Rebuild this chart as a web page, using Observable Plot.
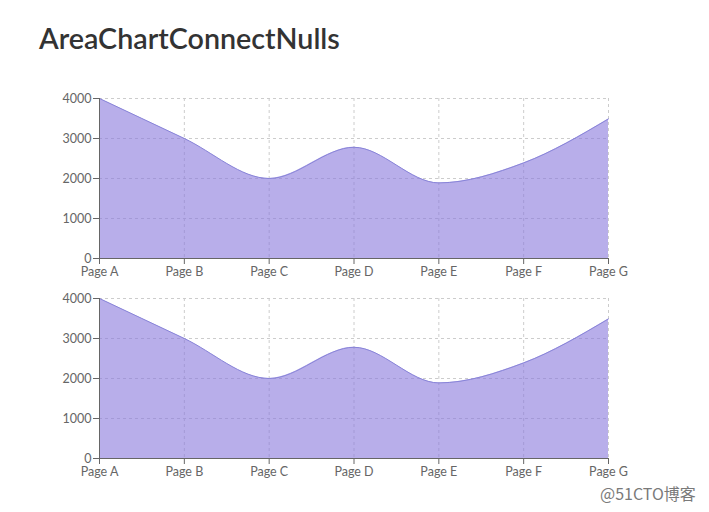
<!DOCTYPE html>
<html>
<head>
<meta charset="utf-8">
<script src="https://cdn.jsdelivr.net/npm/d3@7"></script>
<script src="https://cdn.jsdelivr.net/npm/@observablehq/plot@0.6"></script>
<style>
  html, body { margin: 0; padding: 0; background: #fff; }
  body { width: 709px; height: 512px; position: relative; overflow: hidden; font-family: Lato, "Noto Sans", sans-serif; }
  #title { position: absolute; left: 39px; top: 21px; font-size: 28.7px; font-weight: 600; color: #333; font-family: Lato, sans-serif; }
  .chart { position: absolute; left: 0; }
  #c1 { top: 88px; }
  #c2 { top: 288px; }
  #mark { position: absolute; left: 600px; top: 481px; font-size: 16px; color: #7a7a7a; font-family: "Noto Sans CJK SC", sans-serif; }
</style>
</head>
<body>
<div id="title">AreaChartConnectNulls</div>
<div id="c1" class="chart"></div>
<div id="c2" class="chart"></div>
<div id="mark">@51CTO博客</div>
<script>
const names = ["Page A", "Page B", "Page C", "Page D", "Page E", "Page F", "Page G"];
const uv = [4000, 3000, 2000, 2780, 1890, 2390, 3490];
const yTicks = [0, 1000, 2000, 3000, 4000];

const data = names.map((name, i) => ({name, uv: uv[i]}));

function makeChart() {
  return Plot.plot({
    width: 709,
    height: 192,
    marginLeft: 99,
    marginRight: 101,
    marginTop: 10,
    marginBottom: 22,
    style: {fontFamily: "Lato, 'Noto Sans', sans-serif", fontSize: "12.5px", color: "#666", background: "transparent"},
    x: {type: "point", domain: names, range: [99, 608], padding: 0, round: false, axis: null, label: null},
    y: {domain: [0, 4000], range: [170, 10], axis: null, label: null},
    marks: [
      Plot.gridX(names, {stroke: "#ccc", strokeOpacity: 1, strokeDasharray: "3,3"}),
      Plot.gridY(yTicks, {stroke: "#ccc", strokeOpacity: 1, strokeDasharray: "3,3"}),
      Plot.areaY(data, {x: "name", y: "uv", curve: "monotone-x", fill: "#8978dc", fillOpacity: 0.6}),
      Plot.lineY(data, {x: "name", y: "uv", curve: "monotone-x", stroke: "#8884d8", strokeWidth: 1}),
      Plot.ruleY([0], {stroke: "#666"}),
      Plot.ruleX([names[0]], {stroke: "#666"}),
      Plot.axisY(yTicks, {tickSize: 6, tickPadding: 2, stroke: "#666", fill: "#666", fontSize: 12.5, label: null, tickFormat: d => String(d)}),
      Plot.axisX(names, {tickSize: 6, tickPadding: 3, stroke: "#666", fill: "#666", fontSize: 12.5, label: null})
    ]
  });
}

document.getElementById("c1").appendChild(makeChart());
document.getElementById("c2").appendChild(makeChart());
</script>
</body>
</html>
